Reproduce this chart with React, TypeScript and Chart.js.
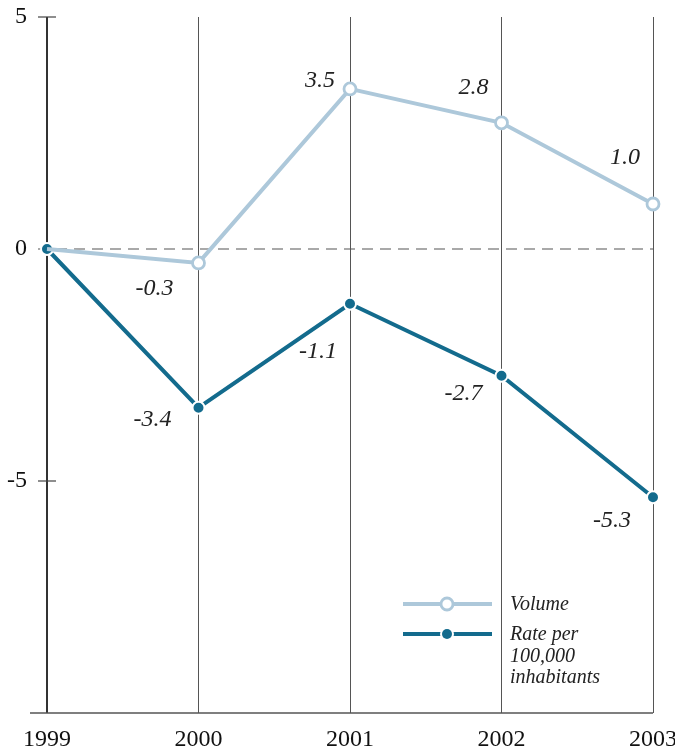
import React, { useEffect, useRef } from "react";
import { Chart, registerables } from "chart.js";

Chart.register(...registerables);

const years = ["1999", "2000", "2001", "2002", "2003"];
const volumeValues = [0, -0.3, 3.45, 2.72, 0.97];
const rateValues = [0, -3.42, -1.18, -2.73, -5.35];
const volumeLabels = ["", "-0.3", "3.5", "2.8", "1.0"];
const rateLabels = ["", "-3.4", "-1.1", "-2.7", "-5.3"];
const yTickValues = [5, 0, -5];
const legendNames = ["Volume", "Rate per\n100,000\ninhabitants"];

const VOL_COLOR = "#adc8da";
const RATE_COLOR = "#136b8d";
const SERIF = "'Liberation Serif', 'Times New Roman', serif";

const volOffsets = [[0, 0], [-44, 26], [-30, -8], [-28, -35], [-28, -46]];
const rateOffsets = [[0, 0], [-46, 12], [-32, 48], [-38, 18], [-41, 23]];

const decorPlugin = {
  id: "decor",
  beforeDatasetsDraw(chart: any) {
    const { ctx, chartArea, scales } = chart;
    const y = scales.y;
    ctx.save();
    const y0 = y.getPixelForValue(0);
    ctx.strokeStyle = "#555";
    ctx.lineWidth = 1.2;
    ctx.setLineDash([11, 7]);
    ctx.beginPath();
    ctx.moveTo(38, y0);
    ctx.lineTo(chartArea.right, y0);
    ctx.stroke();
    ctx.setLineDash([]);
    ctx.strokeStyle = "#333";
    ctx.lineWidth = 2;
    ctx.beginPath();
    ctx.moveTo(chartArea.left, chartArea.top);
    ctx.lineTo(chartArea.left, chartArea.bottom);
    ctx.stroke();
    ctx.lineWidth = 1.2;
    ctx.strokeStyle = "#444";
    [5, -5].forEach((v) => {
      const py = y.getPixelForValue(v);
      ctx.beginPath();
      ctx.moveTo(chartArea.left - 9, py);
      ctx.lineTo(chartArea.left + 9, py);
      ctx.stroke();
    });
    ctx.strokeStyle = "#555";
    ctx.lineWidth = 1.5;
    ctx.beginPath();
    ctx.moveTo(30, chartArea.bottom);
    ctx.lineTo(chartArea.right, chartArea.bottom);
    ctx.stroke();
    ctx.restore();
  },
  afterDatasetsDraw(chart: any) {
    const { ctx } = chart;
    ctx.save();
    ctx.font = `italic 24px ${SERIF}`;
    ctx.fillStyle = "#222";
    ctx.textAlign = "center";
    ctx.textBaseline = "middle";
    const m0 = chart.getDatasetMeta(0).data;
    const m1 = chart.getDatasetMeta(1).data;
    volumeLabels.forEach((t, i) => {
      if (!t) return;
      ctx.fillText(t, m0[i].x + volOffsets[i][0], m0[i].y + volOffsets[i][1]);
    });
    rateLabels.forEach((t, i) => {
      if (!t) return;
      ctx.fillText(t, m1[i].x + rateOffsets[i][0], m1[i].y + rateOffsets[i][1]);
    });
    const lx1 = 403, lx2 = 492, cx = 447;
    const rows = [604, 634];
    ctx.lineWidth = 4;
    ctx.strokeStyle = VOL_COLOR;
    ctx.beginPath();
    ctx.moveTo(lx1, rows[0]);
    ctx.lineTo(lx2, rows[0]);
    ctx.stroke();
    ctx.beginPath();
    ctx.arc(cx, rows[0], 6, 0, Math.PI * 2);
    ctx.fillStyle = "#fff";
    ctx.fill();
    ctx.lineWidth = 2.8;
    ctx.stroke();
    ctx.lineWidth = 4;
    ctx.strokeStyle = RATE_COLOR;
    ctx.beginPath();
    ctx.moveTo(lx1, rows[1]);
    ctx.lineTo(lx2, rows[1]);
    ctx.stroke();
    ctx.beginPath();
    ctx.arc(cx, rows[1], 7, 0, Math.PI * 2);
    ctx.fillStyle = "#fff";
    ctx.fill();
    ctx.beginPath();
    ctx.arc(cx, rows[1], 5, 0, Math.PI * 2);
    ctx.fillStyle = RATE_COLOR;
    ctx.fill();
    ctx.font = `italic 20px ${SERIF}`;
    ctx.fillStyle = "#222";
    ctx.textAlign = "left";
    ctx.fillText(legendNames[0], 510, rows[0] + 1);
    legendNames[1].split("\n").forEach((ln, i) => {
      ctx.fillText(ln, 510, rows[1] + 1 + i * 21.5);
    });
    ctx.restore();
  },
};

export default function App() {
  const ref = useRef<HTMLCanvasElement>(null);
  useEffect(() => {
    if (!ref.current) return;
    const chart = new Chart(ref.current, {
      type: "line",
      data: {
        labels: years,
        datasets: [
          {
            label: "Volume",
            data: volumeValues,
            borderColor: VOL_COLOR,
            borderWidth: 4,
            pointRadius: [0, 6, 6, 6, 6],
            pointBackgroundColor: "#fff",
            pointBorderColor: VOL_COLOR,
            pointBorderWidth: 2.8,
            tension: 0,
          },
          {
            label: "Rate per 100,000 inhabitants",
            data: rateValues,
            borderColor: RATE_COLOR,
            borderWidth: 4,
            pointRadius: 6,
            pointBackgroundColor: RATE_COLOR,
            pointBorderColor: "#fff",
            pointBorderWidth: 2,
            tension: 0,
          },
        ],
      },
      plugins: [decorPlugin],
      options: {
        animation: false,
        responsive: false,
        maintainAspectRatio: false,
        layout: { padding: { top: 17, right: 22, left: 0, bottom: 0 } },
        plugins: { legend: { display: false }, tooltip: { enabled: false } },
        scales: {
          x: {
            type: "category",
            offset: false,
            grid: { display: true, color: "#555", lineWidth: 1, drawTicks: false },
            border: { display: false },
            ticks: {
              color: "#111",
              font: { family: SERIF, size: 24 },
              padding: 12,
              maxRotation: 0,
              autoSkip: false,
            },
            afterFit: (s: any) => {
              s.height = 37;
              s.paddingLeft = 0;
              s.paddingRight = 0;
            },
          },
          y: {
            min: -10,
            max: 5,
            afterBuildTicks: (s: any) => {
              s.ticks = yTickValues.map((v) => ({ value: v }));
            },
            grid: { display: false, drawTicks: false },
            border: { display: false },
            ticks: {
              color: "#111",
              font: { family: SERIF, size: 24 },
              padding: 20,
              callback: (v: any) => String(v),
            },
            afterFit: (s: any) => {
              s.width = 47;
              s.paddingTop = 0;
              s.paddingBottom = 0;
            },
          },
        },
      },
    });
    return () => chart.destroy();
  }, []);
  return (
    <div style={{ position: "fixed", left: 0, top: 0, width: 675, height: 750, background: "#fff" }}>
      <canvas ref={ref} width={675} height={750} style={{ width: 675, height: 750 }} />
    </div>
  );
}
